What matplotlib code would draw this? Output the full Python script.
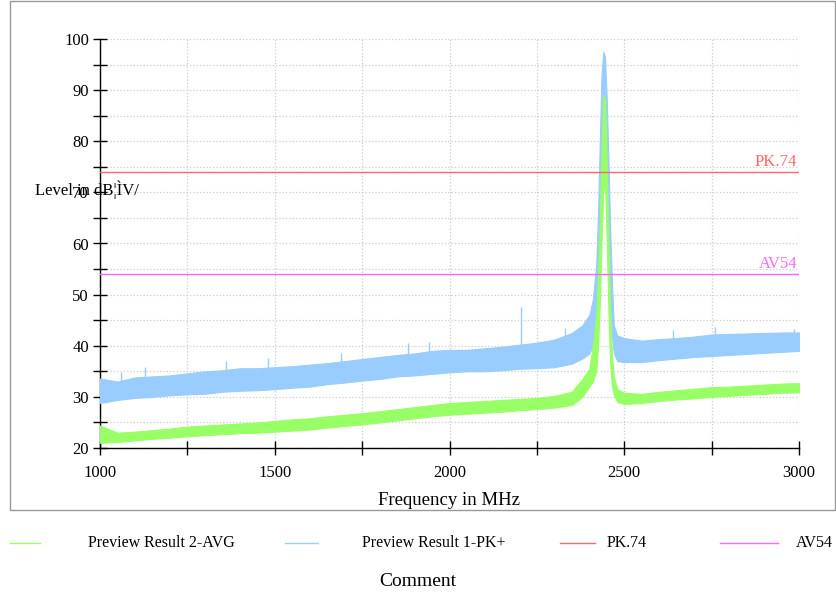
import matplotlib
matplotlib.use("Agg")
import matplotlib.pyplot as plt
from matplotlib.lines import Line2D
from matplotlib.patches import Rectangle
from matplotlib.ticker import MultipleLocator

plt.rcParams['font.family'] = ['Liberation Serif', 'DejaVu Serif']

# frequencia en MHz (mas denso alrededor del pico de 2440)
freq = [1000, 1050, 1100, 1150, 1200, 1250, 1300, 1350, 1400, 1450,
        1500, 1550, 1600, 1650, 1700, 1750, 1800, 1850, 1900, 1950,
        2000, 2050, 2100, 2150, 2200, 2250, 2300, 2350, 2380, 2400,
        2410, 2420, 2425, 2430, 2435, 2440, 2445, 2450, 2455, 2460,
        2465, 2470, 2480, 2500, 2550, 2600, 2650, 2700, 2750, 2800,
        2850, 2900, 2950, 3000]

# Preview Result 1-PK+ (borde inferior / superior del ruido)
pk_lo = [28.8, 29.4, 29.8, 30.0, 30.3, 30.5, 30.6, 31.0, 31.2, 31.3,
         31.5, 31.8, 32.0, 32.5, 32.8, 33.2, 33.5, 34.0, 34.2, 34.5,
         34.8, 35.0, 35.0, 35.2, 35.5, 35.6, 35.8, 36.5, 37.5, 38.5,
         40.0, 44.0, 50.0, 60.0, 75.0, 85.0, 84.0, 70.0, 58.0, 48.0,
         42.0, 38.6, 37.0, 36.8, 36.8, 37.2, 37.5, 37.8, 38.0, 38.2,
         38.4, 38.6, 38.8, 39.0]
pk_hi = [33.6, 33.0, 33.8, 34.0, 34.2, 34.6, 35.0, 35.2, 35.6, 35.6,
         35.8, 36.0, 36.3, 36.6, 37.0, 37.4, 37.8, 38.2, 38.5, 39.0,
         39.2, 39.2, 39.5, 39.8, 40.2, 40.6, 41.2, 42.5, 44.0, 46.0,
         49.0, 56.0, 66.0, 80.0, 93.0, 97.5, 96.5, 88.0, 76.0, 62.0,
         52.0, 44.0, 42.0, 41.5, 41.0, 41.3, 41.5, 41.8, 42.2, 42.3,
         42.4, 42.5, 42.6, 42.6]

# Preview Result 2-AVG
av_lo = [21.0, 21.2, 21.5, 21.8, 22.0, 22.3, 22.5, 22.7, 22.9, 23.0,
         23.2, 23.4, 23.6, 24.0, 24.3, 24.6, 25.0, 25.4, 25.8, 26.2,
         26.5, 26.7, 26.9, 27.1, 27.4, 27.6, 27.9, 28.4, 30.0, 32.0,
         33.0, 35.0, 40.0, 48.0, 60.0, 70.0, 72.0, 60.0, 46.0, 36.0,
         32.0, 30.5, 29.0, 28.6, 28.8, 29.2, 29.5, 29.7, 30.0, 30.2,
         30.4, 30.6, 30.8, 30.9]
av_hi = [24.4, 23.0, 23.2, 23.5, 23.8, 24.2, 24.4, 24.6, 24.8, 25.0,
         25.3, 25.6, 25.8, 26.2, 26.5, 26.8, 27.2, 27.6, 28.0, 28.4,
         28.8, 29.0, 29.2, 29.4, 29.6, 29.8, 30.2, 31.0, 33.5, 35.5,
         40.0, 46.0, 54.0, 64.0, 78.0, 89.0, 88.0, 75.0, 60.0, 46.0,
         38.0, 34.0, 31.5, 30.8, 30.6, 31.0, 31.3, 31.6, 31.9, 32.0,
         32.2, 32.4, 32.6, 32.7]

# picos sueltos del PK+
spike_f = [1060, 1130, 1360, 1480, 1690, 1880, 1940, 2204, 2330, 2640, 2760, 2985]
spike_top = [34.8, 35.8, 37.0, 37.6, 38.6, 40.5, 40.8, 47.6, 43.4, 43.0, 43.6, 43.2]
spike_base = [32.0, 33.0, 34.0, 35.0, 36.0, 37.5, 37.5, 38.0, 40.0, 40.0, 40.5, 41.0]

# limites
pk_limit = 74
av_limit = 54

verde = '#99FF66'
azul = '#99CCFF'
rojo = '#FF6666'
magenta = '#FF66FF'

fig = plt.figure(figsize=(8.36, 5.92), dpi=100)
fig.patches.append(Rectangle((10 / 836, 1 - 510 / 592), 825 / 836, 509 / 592,
                             transform=fig.transFigure, fill=False,
                             edgecolor='#999999', linewidth=1))

ax = fig.add_axes([100 / 836, 1 - 448 / 592, 699 / 836, 409 / 592])

ax.fill_between(freq, pk_lo, pk_hi, color=azul, linewidth=0.8, edgecolor=azul, zorder=3)
ax.vlines(spike_f, spike_base, spike_top, color=azul, linewidth=1, zorder=3)
ax.fill_between(freq, av_lo, av_hi, color=verde, linewidth=0.8, edgecolor=verde, zorder=4)

ax.axhline(pk_limit, color=rojo, linewidth=1, zorder=5)
ax.axhline(av_limit, color=magenta, linewidth=1, zorder=5)
ax.text(2995, pk_limit + 0.4, 'PK.74', color=rojo, fontsize=12, ha='right', va='bottom')
ax.text(2995, av_limit + 0.4, 'AV54', color=magenta, fontsize=12, ha='right', va='bottom')

ax.set_xlim(1000, 3000)
ax.set_ylim(20, 100)
ax.xaxis.set_major_locator(MultipleLocator(500))
ax.xaxis.set_minor_locator(MultipleLocator(250))
ax.yaxis.set_major_locator(MultipleLocator(10))
ax.yaxis.set_minor_locator(MultipleLocator(5))
ax.grid(True, which='both', color='#cccccc', linestyle=':', linewidth=0.9)
ax.set_axisbelow(True)
ax.tick_params(which='both', direction='inout', length=10, width=1, labelsize=12)
ax.tick_params(axis='x', pad=7)
ax.tick_params(axis='y', pad=3)
ax.spines['top'].set_visible(False)
ax.spines['right'].set_visible(False)
for s in ['left', 'bottom']:
    ax.spines[s].set_linewidth(1)

ax.set_xlabel('Frequency in MHz', fontsize=13.5, labelpad=8)
fig.text(35 / 836, 1 - 190 / 592, 'Level in dB¦ÌV/', fontsize=12, va='center', ha='left')

# leyenda abajo, fuera del marco
leg_y = 1 - 543 / 592
items = [(10, 40, verde, 88, 'Preview Result 2-AVG'),
         (285, 318, azul, 362, 'Preview Result 1-PK+'),
         (560, 595, rojo, 607, 'PK.74'),
         (720, 778, magenta, 796, 'AV54')]
for x0, x1, c, xt, txt in items:
    fig.add_artist(Line2D([x0 / 836, x1 / 836], [leg_y, leg_y], color=c, linewidth=1,
                          transform=fig.transFigure))
    fig.text(xt / 836, leg_y, txt, fontsize=11.5, va='center', ha='left')

fig.text(418 / 836, 1 - 582 / 592, 'Comment', fontsize=14, va='center', ha='center')

fig.savefig('out.png', dpi=100)
